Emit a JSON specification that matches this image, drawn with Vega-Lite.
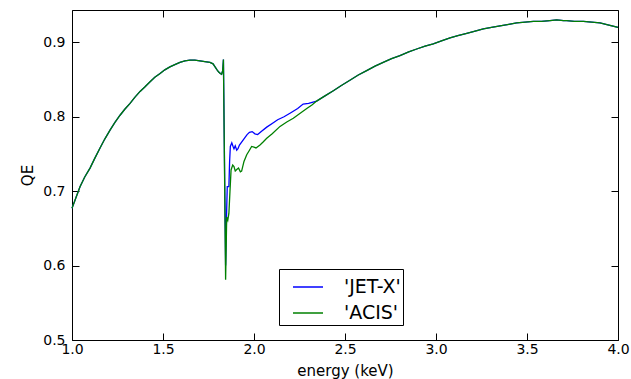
{
  "$schema": "https://vega.github.io/schema/vega-lite/v6.json",
  "width": 546,
  "height": 330,
  "autosize": {"type": "none"},
  "padding": {"left": 72, "top": 10, "right": 13, "bottom": 39},
  "background": "white",
  "config": {
    "font": "DejaVu Sans",
    "view": {"stroke": "black", "strokeWidth": 1},
    "axis": {
      "grid": false,
      "domain": false,
      "ticks": true,
      "tickColor": "black",
      "tickSize": -7,
      "tickWidth": 1,
      "labelFont": "DejaVu Sans",
      "labelFontSize": 14,
      "labelColor": "black",
      "titleFont": "DejaVu Sans",
      "titleFontSize": 15,
      "titleFontWeight": "normal",
      "titleColor": "black"
    }
  },
  "datasets": {
    "curves": [
      {"E": 1.0, "QE": 0.677, "det": "'JET-X'"},
      {"E": 1.02, "QE": 0.69, "det": "'JET-X'"},
      {"E": 1.044, "QE": 0.706, "det": "'JET-X'"},
      {"E": 1.07, "QE": 0.719, "det": "'JET-X'"},
      {"E": 1.099, "QE": 0.731, "det": "'JET-X'"},
      {"E": 1.125, "QE": 0.744, "det": "'JET-X'"},
      {"E": 1.154, "QE": 0.758, "det": "'JET-X'"},
      {"E": 1.18, "QE": 0.77, "det": "'JET-X'"},
      {"E": 1.209, "QE": 0.782, "det": "'JET-X'"},
      {"E": 1.235, "QE": 0.792, "det": "'JET-X'"},
      {"E": 1.264, "QE": 0.802, "det": "'JET-X'"},
      {"E": 1.29, "QE": 0.81, "det": "'JET-X'"},
      {"E": 1.319, "QE": 0.818, "det": "'JET-X'"},
      {"E": 1.345, "QE": 0.826, "det": "'JET-X'"},
      {"E": 1.374, "QE": 0.834, "det": "'JET-X'"},
      {"E": 1.4, "QE": 0.84, "det": "'JET-X'"},
      {"E": 1.429, "QE": 0.847, "det": "'JET-X'"},
      {"E": 1.455, "QE": 0.853, "det": "'JET-X'"},
      {"E": 1.484, "QE": 0.858, "det": "'JET-X'"},
      {"E": 1.51, "QE": 0.863, "det": "'JET-X'"},
      {"E": 1.538, "QE": 0.867, "det": "'JET-X'"},
      {"E": 1.565, "QE": 0.87, "det": "'JET-X'"},
      {"E": 1.593, "QE": 0.873, "det": "'JET-X'"},
      {"E": 1.62, "QE": 0.875, "det": "'JET-X'"},
      {"E": 1.648, "QE": 0.876, "det": "'JET-X'"},
      {"E": 1.675, "QE": 0.876, "det": "'JET-X'"},
      {"E": 1.703, "QE": 0.875, "det": "'JET-X'"},
      {"E": 1.73, "QE": 0.874, "det": "'JET-X'"},
      {"E": 1.758, "QE": 0.873, "det": "'JET-X'"},
      {"E": 1.775, "QE": 0.871, "det": "'JET-X'"},
      {"E": 1.786, "QE": 0.867, "det": "'JET-X'"},
      {"E": 1.797, "QE": 0.863, "det": "'JET-X'"},
      {"E": 1.806, "QE": 0.86, "det": "'JET-X'"},
      {"E": 1.815, "QE": 0.858, "det": "'JET-X'"},
      {"E": 1.822, "QE": 0.857, "det": "'JET-X'"},
      {"E": 1.828, "QE": 0.862, "det": "'JET-X'"},
      {"E": 1.832, "QE": 0.877, "det": "'JET-X'"},
      {"E": 1.844, "QE": 0.6, "det": "'JET-X'"},
      {"E": 1.849, "QE": 0.666, "det": "'JET-X'"},
      {"E": 1.853, "QE": 0.706, "det": "'JET-X'"},
      {"E": 1.862, "QE": 0.706, "det": "'JET-X'"},
      {"E": 1.866, "QE": 0.74, "det": "'JET-X'"},
      {"E": 1.87, "QE": 0.76, "det": "'JET-X'"},
      {"E": 1.878, "QE": 0.765, "det": "'JET-X'"},
      {"E": 1.885, "QE": 0.76, "det": "'JET-X'"},
      {"E": 1.89, "QE": 0.757, "det": "'JET-X'"},
      {"E": 1.897, "QE": 0.761, "det": "'JET-X'"},
      {"E": 1.905, "QE": 0.755, "det": "'JET-X'"},
      {"E": 1.912, "QE": 0.757, "det": "'JET-X'"},
      {"E": 1.92, "QE": 0.762, "det": "'JET-X'"},
      {"E": 1.935, "QE": 0.767, "det": "'JET-X'"},
      {"E": 1.95, "QE": 0.772, "det": "'JET-X'"},
      {"E": 1.962, "QE": 0.776, "det": "'JET-X'"},
      {"E": 1.975, "QE": 0.779, "det": "'JET-X'"},
      {"E": 1.99, "QE": 0.78, "det": "'JET-X'"},
      {"E": 2.005, "QE": 0.777, "det": "'JET-X'"},
      {"E": 2.02, "QE": 0.776, "det": "'JET-X'"},
      {"E": 2.04, "QE": 0.78, "det": "'JET-X'"},
      {"E": 2.07, "QE": 0.786, "det": "'JET-X'"},
      {"E": 2.1, "QE": 0.791, "det": "'JET-X'"},
      {"E": 2.13, "QE": 0.796, "det": "'JET-X'"},
      {"E": 2.165, "QE": 0.8, "det": "'JET-X'"},
      {"E": 2.2, "QE": 0.805, "det": "'JET-X'"},
      {"E": 2.24, "QE": 0.811, "det": "'JET-X'"},
      {"E": 2.27, "QE": 0.817, "det": "'JET-X'"},
      {"E": 2.3, "QE": 0.818, "det": "'JET-X'"},
      {"E": 2.344, "QE": 0.821, "det": "'JET-X'"},
      {"E": 2.39, "QE": 0.828, "det": "'JET-X'"},
      {"E": 2.436, "QE": 0.835, "det": "'JET-X'"},
      {"E": 2.48, "QE": 0.842, "det": "'JET-X'"},
      {"E": 2.527, "QE": 0.849, "det": "'JET-X'"},
      {"E": 2.573, "QE": 0.856, "det": "'JET-X'"},
      {"E": 2.619, "QE": 0.862, "det": "'JET-X'"},
      {"E": 2.665, "QE": 0.868, "det": "'JET-X'"},
      {"E": 2.71, "QE": 0.873, "det": "'JET-X'"},
      {"E": 2.756, "QE": 0.878, "det": "'JET-X'"},
      {"E": 2.802, "QE": 0.882, "det": "'JET-X'"},
      {"E": 2.85, "QE": 0.887, "det": "'JET-X'"},
      {"E": 2.894, "QE": 0.891, "det": "'JET-X'"},
      {"E": 2.94, "QE": 0.895, "det": "'JET-X'"},
      {"E": 2.985, "QE": 0.898, "det": "'JET-X'"},
      {"E": 3.03, "QE": 0.902, "det": "'JET-X'"},
      {"E": 3.077, "QE": 0.906, "det": "'JET-X'"},
      {"E": 3.12, "QE": 0.909, "det": "'JET-X'"},
      {"E": 3.169, "QE": 0.912, "det": "'JET-X'"},
      {"E": 3.215, "QE": 0.915, "det": "'JET-X'"},
      {"E": 3.26, "QE": 0.918, "det": "'JET-X'"},
      {"E": 3.305, "QE": 0.92, "det": "'JET-X'"},
      {"E": 3.352, "QE": 0.922, "det": "'JET-X'"},
      {"E": 3.4, "QE": 0.924, "det": "'JET-X'"},
      {"E": 3.443, "QE": 0.926, "det": "'JET-X'"},
      {"E": 3.49, "QE": 0.927, "det": "'JET-X'"},
      {"E": 3.535, "QE": 0.928, "det": "'JET-X'"},
      {"E": 3.58, "QE": 0.928, "det": "'JET-X'"},
      {"E": 3.626, "QE": 0.929, "det": "'JET-X'"},
      {"E": 3.663, "QE": 0.93, "det": "'JET-X'"},
      {"E": 3.7, "QE": 0.929, "det": "'JET-X'"},
      {"E": 3.718, "QE": 0.929, "det": "'JET-X'"},
      {"E": 3.76, "QE": 0.928, "det": "'JET-X'"},
      {"E": 3.81, "QE": 0.928, "det": "'JET-X'"},
      {"E": 3.855, "QE": 0.927, "det": "'JET-X'"},
      {"E": 3.901, "QE": 0.926, "det": "'JET-X'"},
      {"E": 3.95, "QE": 0.923, "det": "'JET-X'"},
      {"E": 4.0, "QE": 0.92, "det": "'JET-X'"},
      {"E": 1.0, "QE": 0.677, "det": "'ACIS'"},
      {"E": 1.02, "QE": 0.69, "det": "'ACIS'"},
      {"E": 1.044, "QE": 0.706, "det": "'ACIS'"},
      {"E": 1.07, "QE": 0.719, "det": "'ACIS'"},
      {"E": 1.099, "QE": 0.731, "det": "'ACIS'"},
      {"E": 1.125, "QE": 0.744, "det": "'ACIS'"},
      {"E": 1.154, "QE": 0.758, "det": "'ACIS'"},
      {"E": 1.18, "QE": 0.77, "det": "'ACIS'"},
      {"E": 1.209, "QE": 0.782, "det": "'ACIS'"},
      {"E": 1.235, "QE": 0.792, "det": "'ACIS'"},
      {"E": 1.264, "QE": 0.802, "det": "'ACIS'"},
      {"E": 1.29, "QE": 0.81, "det": "'ACIS'"},
      {"E": 1.319, "QE": 0.818, "det": "'ACIS'"},
      {"E": 1.345, "QE": 0.826, "det": "'ACIS'"},
      {"E": 1.374, "QE": 0.834, "det": "'ACIS'"},
      {"E": 1.4, "QE": 0.84, "det": "'ACIS'"},
      {"E": 1.429, "QE": 0.847, "det": "'ACIS'"},
      {"E": 1.455, "QE": 0.853, "det": "'ACIS'"},
      {"E": 1.484, "QE": 0.858, "det": "'ACIS'"},
      {"E": 1.51, "QE": 0.863, "det": "'ACIS'"},
      {"E": 1.538, "QE": 0.867, "det": "'ACIS'"},
      {"E": 1.565, "QE": 0.87, "det": "'ACIS'"},
      {"E": 1.593, "QE": 0.873, "det": "'ACIS'"},
      {"E": 1.62, "QE": 0.875, "det": "'ACIS'"},
      {"E": 1.648, "QE": 0.876, "det": "'ACIS'"},
      {"E": 1.675, "QE": 0.876, "det": "'ACIS'"},
      {"E": 1.703, "QE": 0.875, "det": "'ACIS'"},
      {"E": 1.73, "QE": 0.874, "det": "'ACIS'"},
      {"E": 1.758, "QE": 0.873, "det": "'ACIS'"},
      {"E": 1.775, "QE": 0.871, "det": "'ACIS'"},
      {"E": 1.786, "QE": 0.867, "det": "'ACIS'"},
      {"E": 1.797, "QE": 0.863, "det": "'ACIS'"},
      {"E": 1.806, "QE": 0.86, "det": "'ACIS'"},
      {"E": 1.815, "QE": 0.858, "det": "'ACIS'"},
      {"E": 1.822, "QE": 0.857, "det": "'ACIS'"},
      {"E": 1.828, "QE": 0.862, "det": "'ACIS'"},
      {"E": 1.832, "QE": 0.877, "det": "'ACIS'"},
      {"E": 1.844, "QE": 0.581, "det": "'ACIS'"},
      {"E": 1.85, "QE": 0.665, "det": "'ACIS'"},
      {"E": 1.856, "QE": 0.661, "det": "'ACIS'"},
      {"E": 1.862, "QE": 0.67, "det": "'ACIS'"},
      {"E": 1.868, "QE": 0.7, "det": "'ACIS'"},
      {"E": 1.874, "QE": 0.7285, "det": "'ACIS'"},
      {"E": 1.883, "QE": 0.735, "det": "'ACIS'"},
      {"E": 1.89, "QE": 0.733, "det": "'ACIS'"},
      {"E": 1.897, "QE": 0.727, "det": "'ACIS'"},
      {"E": 1.905, "QE": 0.729, "det": "'ACIS'"},
      {"E": 1.915, "QE": 0.731, "det": "'ACIS'"},
      {"E": 1.925, "QE": 0.726, "det": "'ACIS'"},
      {"E": 1.932, "QE": 0.727, "det": "'ACIS'"},
      {"E": 1.945, "QE": 0.74, "det": "'ACIS'"},
      {"E": 1.96, "QE": 0.749, "det": "'ACIS'"},
      {"E": 1.975, "QE": 0.755, "det": "'ACIS'"},
      {"E": 1.987, "QE": 0.76, "det": "'ACIS'"},
      {"E": 2.0, "QE": 0.759, "det": "'ACIS'"},
      {"E": 2.011, "QE": 0.758, "det": "'ACIS'"},
      {"E": 2.033, "QE": 0.762, "det": "'ACIS'"},
      {"E": 2.05, "QE": 0.766, "det": "'ACIS'"},
      {"E": 2.07, "QE": 0.771, "det": "'ACIS'"},
      {"E": 2.1, "QE": 0.777, "det": "'ACIS'"},
      {"E": 2.143, "QE": 0.787, "det": "'ACIS'"},
      {"E": 2.18, "QE": 0.793, "det": "'ACIS'"},
      {"E": 2.216, "QE": 0.798, "det": "'ACIS'"},
      {"E": 2.25, "QE": 0.804, "det": "'ACIS'"},
      {"E": 2.29, "QE": 0.811, "det": "'ACIS'"},
      {"E": 2.32, "QE": 0.816, "det": "'ACIS'"},
      {"E": 2.344, "QE": 0.821, "det": "'ACIS'"},
      {"E": 2.39, "QE": 0.828, "det": "'ACIS'"},
      {"E": 2.436, "QE": 0.835, "det": "'ACIS'"},
      {"E": 2.48, "QE": 0.842, "det": "'ACIS'"},
      {"E": 2.527, "QE": 0.849, "det": "'ACIS'"},
      {"E": 2.573, "QE": 0.856, "det": "'ACIS'"},
      {"E": 2.619, "QE": 0.862, "det": "'ACIS'"},
      {"E": 2.665, "QE": 0.868, "det": "'ACIS'"},
      {"E": 2.71, "QE": 0.873, "det": "'ACIS'"},
      {"E": 2.756, "QE": 0.878, "det": "'ACIS'"},
      {"E": 2.802, "QE": 0.882, "det": "'ACIS'"},
      {"E": 2.85, "QE": 0.887, "det": "'ACIS'"},
      {"E": 2.894, "QE": 0.891, "det": "'ACIS'"},
      {"E": 2.94, "QE": 0.895, "det": "'ACIS'"},
      {"E": 2.985, "QE": 0.898, "det": "'ACIS'"},
      {"E": 3.03, "QE": 0.902, "det": "'ACIS'"},
      {"E": 3.077, "QE": 0.906, "det": "'ACIS'"},
      {"E": 3.12, "QE": 0.909, "det": "'ACIS'"},
      {"E": 3.169, "QE": 0.912, "det": "'ACIS'"},
      {"E": 3.215, "QE": 0.915, "det": "'ACIS'"},
      {"E": 3.26, "QE": 0.918, "det": "'ACIS'"},
      {"E": 3.305, "QE": 0.92, "det": "'ACIS'"},
      {"E": 3.352, "QE": 0.922, "det": "'ACIS'"},
      {"E": 3.4, "QE": 0.924, "det": "'ACIS'"},
      {"E": 3.443, "QE": 0.926, "det": "'ACIS'"},
      {"E": 3.49, "QE": 0.927, "det": "'ACIS'"},
      {"E": 3.535, "QE": 0.928, "det": "'ACIS'"},
      {"E": 3.58, "QE": 0.928, "det": "'ACIS'"},
      {"E": 3.626, "QE": 0.929, "det": "'ACIS'"},
      {"E": 3.663, "QE": 0.93, "det": "'ACIS'"},
      {"E": 3.7, "QE": 0.929, "det": "'ACIS'"},
      {"E": 3.718, "QE": 0.929, "det": "'ACIS'"},
      {"E": 3.76, "QE": 0.928, "det": "'ACIS'"},
      {"E": 3.81, "QE": 0.928, "det": "'ACIS'"},
      {"E": 3.855, "QE": 0.927, "det": "'ACIS'"},
      {"E": 3.901, "QE": 0.926, "det": "'ACIS'"},
      {"E": 3.95, "QE": 0.923, "det": "'ACIS'"},
      {"E": 4.0, "QE": 0.92, "det": "'ACIS'"}
    ]
  },
  "data": {"name": "curves"},
  "layer": [
    {
      "mark": {"type": "line", "strokeWidth": 1.3},
      "encoding": {
        "x": {
          "field": "E", "type": "quantitative",
          "scale": {"domain": [1, 4], "nice": false, "zero": false},
          "axis": {"orient": "bottom", "title": "energy (keV)", "values": [1, 1.5, 2, 2.5, 3, 3.5, 4], "format": ".1f", "labelPadding": 9, "titlePadding": 7, "labelFlush": false}
        },
        "y": {
          "field": "QE", "type": "quantitative",
          "scale": {"domain": [0.5, 0.9434], "nice": false, "zero": false},
          "axis": {"orient": "left", "title": "QE", "values": [0.5, 0.6, 0.7, 0.8, 0.9], "format": ".1f", "labelPadding": 14, "titlePadding": 7, "labelFlush": false}
        },
        "color": {
          "field": "det", "type": "nominal",
          "scale": {"domain": ["'JET-X'", "'ACIS'"], "range": ["#0000ff", "#008000"]},
          "legend": {
            "orient": "none", "legendX": 207, "legendY": 259, "title": null,
            "strokeColor": "black", "fillColor": "white", "padding": 2, "cornerRadius": 0,
            "symbolType": "stroke", "symbolSize": 900, "symbolStrokeWidth": 1.5, "symbolOffset": 11,
            "labelFont": "DejaVu Sans", "labelFontSize": 19, "labelColor": "black", "labelOffset": 20, "rowPadding": -3,
            "labelExpr": "datum.label + '  '"
          }
        }
      }
    },
    {
      "mark": {"type": "line", "opacity": 0},
      "encoding": {
        "x": {"field": "E", "type": "quantitative", "axis": {"orient": "top", "title": null, "labels": false, "values": [1, 1.5, 2, 2.5, 3, 3.5, 4]}},
        "y": {"field": "QE", "type": "quantitative", "axis": {"orient": "right", "title": null, "labels": false, "values": [0.5, 0.6, 0.7, 0.8, 0.9]}}
      }
    }
  ],
  "resolve": {"axis": {"x": "independent", "y": "independent"}}
}
